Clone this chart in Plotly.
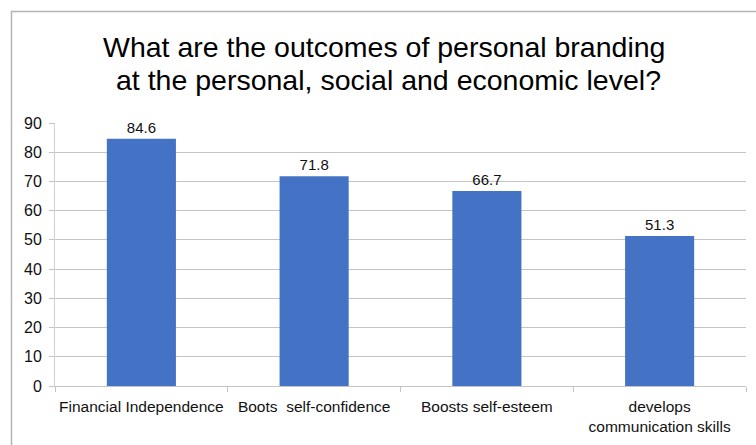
import plotly.graph_objects as go

categories = ["Financial Independence", "Boots  self-confidence", "Boosts self-esteem",
              "develops<br>communication skills"]
values = [84.6, 71.8, 66.7, 51.3]
value_labels = ["84.6", "71.8", "66.7", "51.3"]
y_ticks = [0, 10, 20, 30, 40, 50, 60, 70, 80, 90]
title_lines = ["What are the outcomes of personal branding",
               "at the personal, social and economic level?"]

W, H = 756, 445
L, R, T, B = 55, 10, 123, 59
pw, ph = W - L - R, H - T - B

def px_x(p):
    return (p - L) / pw

def px_y(p):
    return (H - B - p) / ph

font = "Liberation Sans, Arial, sans-serif"
txt = "#111111"

fig = go.Figure(go.Bar(
    x=categories, y=values, text=value_labels, textposition="outside",
    marker=dict(color="#4472C4", line=dict(width=0)),
    textfont=dict(size=15, color=txt, family=font),
    cliponaxis=False, width=0.4,
))

fig.update_layout(
    width=W, height=H, margin=dict(l=L, r=R, t=T, b=B, autoexpand=False),
    paper_bgcolor="white", plot_bgcolor="white", showlegend=False,
    font=dict(family=font, size=15, color=txt),
    xaxis=dict(tickson="boundaries", ticks="outside", ticklen=5, tickcolor="#c4c4c4",
               showline=True, linecolor="#c4c4c4", linewidth=1, showgrid=False,
               ticklabelstandoff=6, tickangle=0, automargin=False,
               tickfont=dict(size=15.5, color=txt)),
    yaxis=dict(range=[0, 90], tickvals=y_ticks, showgrid=True, gridcolor="#c4c4c4",
               gridwidth=1, ticks="outside", ticklen=5, tickcolor="#c4c4c4",
               showline=True, linecolor="#d0d0d0", zeroline=False,
               ticklabelstandoff=4, automargin=False,
               tickfont=dict(size=16, color=txt)),
    annotations=[
        dict(text=title_lines[0], xref="paper", yref="paper", x=px_x(383.5), y=px_y(47),
             xanchor="center", yanchor="middle", showarrow=False,
             font=dict(size=28.5, color="#000000", family=font)),
        dict(text=title_lines[1], xref="paper", yref="paper", x=px_x(388), y=px_y(80),
             xanchor="center", yanchor="middle", showarrow=False,
             font=dict(size=28.5, color="#000000", family=font)),
    ],
    shapes=[
        dict(type="line", xref="paper", yref="paper", x0=px_x(11), x1=px_x(770),
             y0=px_y(11.5), y1=px_y(11.5), line=dict(color="#b3b3b3", width=1.5)),
        dict(type="line", xref="paper", yref="paper", x0=px_x(11.5), x1=px_x(11.5),
             y0=px_y(11), y1=px_y(460), line=dict(color="#b3b3b3", width=1.5)),
    ],
)

fig.write_html("out.html")
